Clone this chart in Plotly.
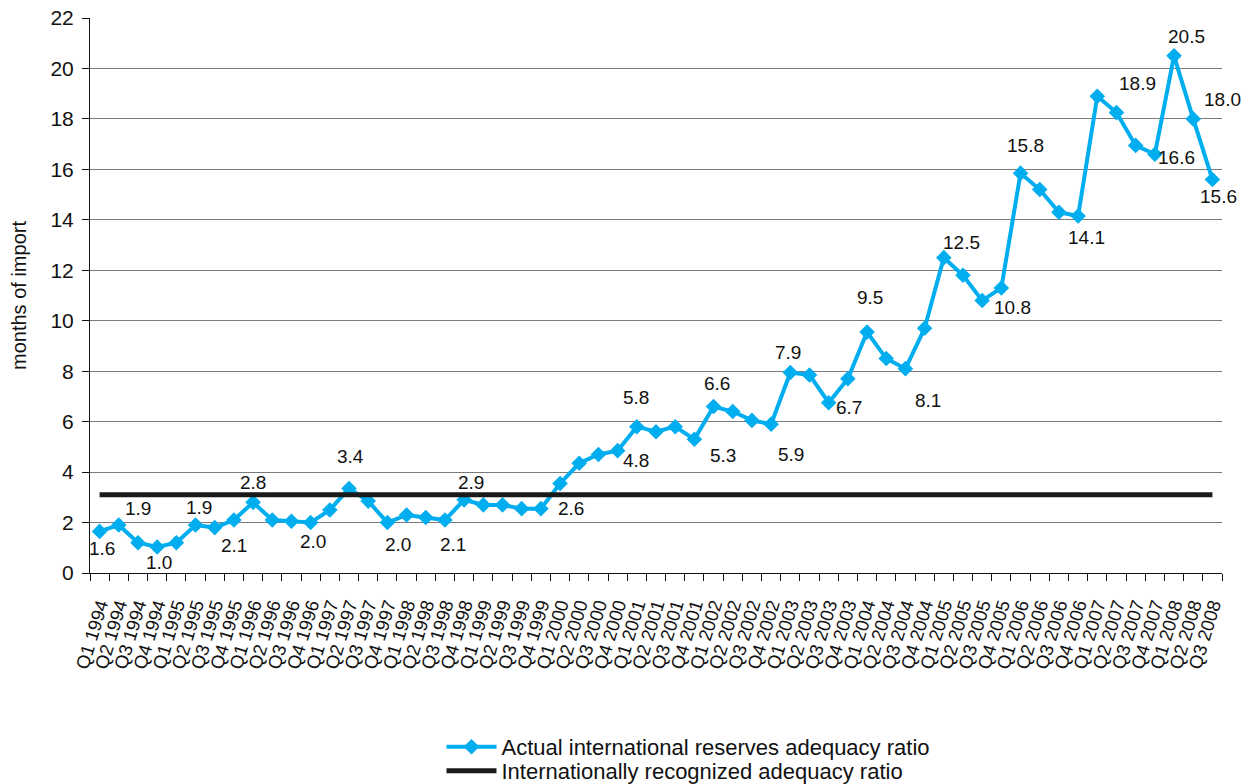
import plotly.graph_objects as go

quarters = [f"Q{q} {y}" for y in range(1994, 2009) for q in range(1, 5)][:59]

reserves_ratio = [
    1.65, 1.9, 1.2, 1.03,
    1.2, 1.9, 1.8, 2.1,
    2.8, 2.1, 2.05, 2.0,
    2.5, 3.35, 2.85, 2.0,
    2.3, 2.2, 2.1, 2.9,
    2.7, 2.7, 2.55, 2.55,
    3.55, 4.35, 4.7, 4.85,
    5.8, 5.6, 5.8, 5.3,
    6.6, 6.4, 6.05, 5.9,
    7.95, 7.85, 6.75, 7.7,
    9.55, 8.5, 8.1, 9.7,
    12.5, 11.8, 10.8, 11.3,
    15.85, 15.2, 14.3, 14.15,
    18.9, 18.25, 16.95, 16.6,
    20.5, 18.0, 15.6,
]

recognized_ratio = [3.1] * len(quarters)

# labelled points: index -> text shown
label_idx = [0, 1, 3, 5, 7, 8, 11, 13, 15, 18, 19, 23, 27, 28, 31, 32, 35, 36, 38, 40,
             42, 44, 46, 48, 51, 52, 55, 56, 57, 58]
label_text = ["1.6", "1.9", "1.0", "1.9", "2.1", "2.8", "2.0", "3.4", "2.0", "2.1", "2.9", "2.6",
              "4.8", "5.8", "5.3", "6.6", "5.9", "7.9", "6.7", "9.5",
              "8.1", "12.5", "10.8", "15.8", "14.1", "18.9", "16.6", "20.5", "18.0", "15.6"]
# label offsets in pixels (style)
label_shift = {
    0: (2, -17), 1: (19, 17), 3: (2, -15), 5: (3, 18), 7: (0, -25), 8: (0, 20),
    11: (2, -19), 13: (1, 32), 15: (11, -22), 18: (8, -24), 19: (7, 17), 23: (30, 0),
    27: (18, -10), 28: (-1, 29), 31: (29, -16), 32: (3, 23), 35: (20, -30), 36: (-2, 20),
    38: (20, -5), 40: (3, 35), 42: (23, -32), 44: (18, 15), 46: (30, -7), 48: (5, 28),
    51: (8, -21), 52: (40, 13), 55: (22, -3), 56: (12, 19), 57: (29, 19), 58: (6, -17),
}

FONT = "Liberation Sans, Arial, Helvetica, sans-serif"

fig = go.Figure()
fig.add_trace(go.Scatter(
    x=quarters, y=reserves_ratio, mode="lines+markers",
    name="Actual international reserves adequacy ratio",
    line=dict(color="#00AEEF", width=4),
    marker=dict(symbol="diamond", size=12, color="#00AEEF"),
    legend="legend",
))
fig.add_trace(go.Scatter(
    x=quarters, y=recognized_ratio, mode="lines",
    name="Internationally recognized adequacy ratio",
    line=dict(color="#1a1a1a", width=5),
    legend="legend2",
))

for i, t in zip(label_idx, label_text):
    dx, dy = label_shift[i]
    fig.add_annotation(x=quarters[i], y=reserves_ratio[i], text=t, showarrow=False,
                       xshift=dx, yshift=dy,
                       font=dict(family=FONT, size=19, color="#111"))

leg_common = dict(xanchor="left", yanchor="middle", orientation="v",
                  font=dict(size=22, color="#111"), itemwidth=50,
                  bgcolor="rgba(0,0,0,0)", borderwidth=0)

fig.update_layout(
    width=1247, height=784,
    margin=dict(l=90, r=25, t=18, b=211, autoexpand=False),
    paper_bgcolor="white", plot_bgcolor="white",
    font=dict(family=FONT, color="#111"),
    showlegend=True,
    legend=dict(x=0.3105, y=-(747 - 573) / 555, **leg_common),
    legend2=dict(x=0.3105, y=-(771 - 573) / 555, **leg_common),
    xaxis=dict(
        type="category", range=[-0.5, 58.5], automargin=False,
        tickmode="array", tickvals=quarters, ticktext=quarters,
        showline=True, linecolor="#111", linewidth=1,
        ticks="outside", tickson="boundaries", ticklen=7, tickcolor="#111",
        tickangle=-73, tickfont=dict(size=18.5, color="#111"), ticklabelstandoff=13,
        showgrid=False, zeroline=False,
    ),
    yaxis=dict(
        range=[0, 22], dtick=2, automargin=False,
        showline=True, linecolor="#111", linewidth=1,
        ticks="outside", ticklen=7, tickcolor="#111",
        tickfont=dict(size=21, color="#111"), ticklabelstandoff=4,
        showgrid=True, gridcolor="#7a7a7a", gridwidth=1,
        zeroline=False,
        title=dict(text="months of import", font=dict(size=20, color="#111"), standoff=18),
    ),
)

fig.write_html("out.html", config={"displayModeBar": False},
               post_script="document.body.style.margin='0';document.body.style.overflow='hidden';")
